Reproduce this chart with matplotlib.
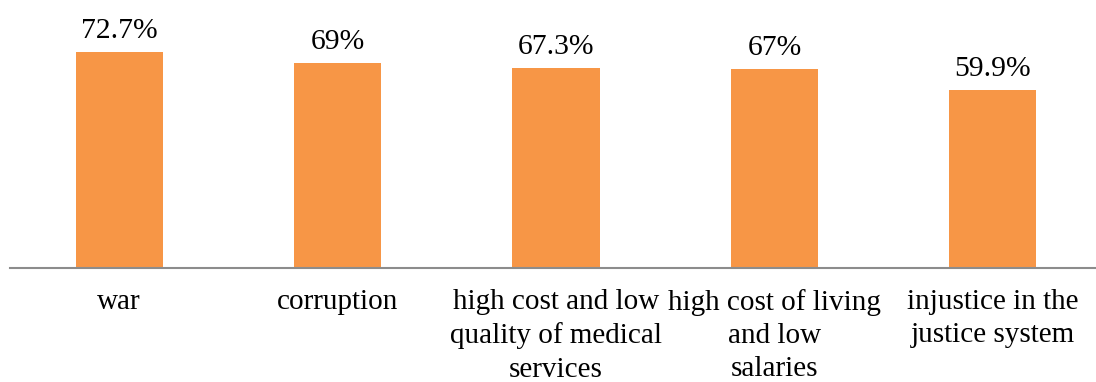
import matplotlib
matplotlib.use("Agg")
import matplotlib.pyplot as plt

categories = ["war", "corruption", "high cost and low\nquality of medical\nservices",
              "high cost of living\nand low\nsalaries", "injustice in the\njustice system"]
values = [72.7, 69.0, 67.3, 67.0, 59.9]
value_labels = ["72.7%", "69%", "67.3%", "67%", "59.9%"]

plt.rcParams['font.family'] = ['Liberation Serif', 'DejaVu Serif']

W, H = 1096, 382
fig = plt.figure(figsize=(W / 100, H / 100), dpi=100)
ax = fig.add_axes([10 / W, (H - 268) / H, 1092 / W, 268 / H])

x = list(range(len(categories)))
bars = ax.bar(x, values, width=0.4, color="#F79646")
ax.set_xlim(-0.5, len(categories) - 0.5)
ax.set_ylim(0, 90.2)

for xi, v, lab in zip(x, values, value_labels):
    ax.annotate(lab, (xi, v), xytext=(0, 5.5), textcoords="offset points",
                ha="center", va="bottom", fontsize=21.3, color="black")

ax.set_xticks(x)
ax.set_xticklabels(categories, fontsize=21, linespacing=1.36, multialignment="center")
ax.tick_params(axis="x", length=0, pad=15)
ax.set_yticks([])
for s in ["top", "right", "left"]:
    ax.spines[s].set_visible(False)
ax.spines["bottom"].set_color("#8C8C8C")
ax.spines["bottom"].set_linewidth(1.5)

fig.savefig("out.png", dpi=100)
